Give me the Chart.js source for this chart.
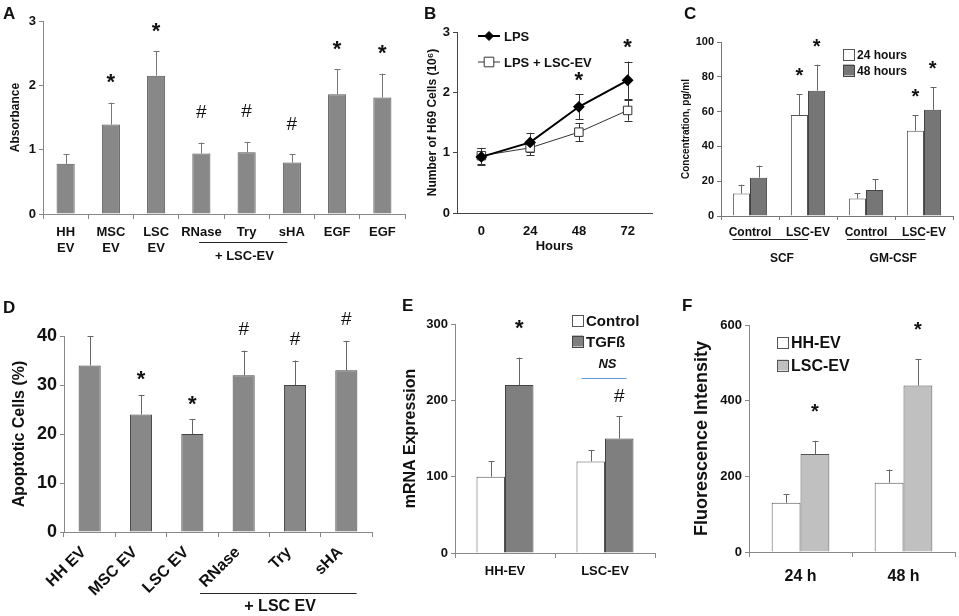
<!DOCTYPE html>
<html>
<head>
<meta charset="utf-8">
<script src="https://cdn.jsdelivr.net/npm/chart.js@4.4.1/dist/chart.umd.min.js"></script>
<style>
body { margin: 0; background: #fff; width: 959px; height: 616px; position: relative; overflow: hidden; font-family: 'Liberation Sans', Arial, sans-serif; }
canvas { position: absolute; }
.letter { position: absolute; font-weight: bold; font-size: 17px; color: #111; }
</style>
</head>
<body>
<canvas id="cA" width="415" height="270" style="left:0;top:0"></canvas>
<canvas id="cB" width="260" height="270" style="left:420px;top:0"></canvas>
<canvas id="cC" width="279" height="270" style="left:680px;top:0"></canvas>
<canvas id="cD" width="400" height="316" style="left:0;top:300px"></canvas>
<canvas id="cE" width="280" height="316" style="left:400px;top:300px"></canvas>
<canvas id="cF" width="279" height="316" style="left:680px;top:300px"></canvas>
<div class="letter" style="left:3px;top:4px">A</div>
<div class="letter" style="left:424px;top:4px">B</div>
<div class="letter" style="left:684px;top:4px">C</div>
<div class="letter" style="left:3px;top:298px">D</div>
<div class="letter" style="left:402px;top:296px">E</div>
<div class="letter" style="left:682px;top:296px">F</div>
<script>
// A - cell proliferation (absorbance)
var labelsA = [['HH', 'EV'], ['MSC', 'EV'], ['LSC', 'EV'], 'RNase', 'Try', 'sHA', 'EGF', 'EGF'];
var absorbA = [0.78, 1.39, 2.15, 0.94, 0.96, 0.80, 1.86, 1.81];
var sdA = [0.15, 0.34, 0.38, 0.17, 0.16, 0.13, 0.39, 0.37];
var sigA = ['', '*', '*', '#', '#', '#', '*', '*'];

// B - H69 cell number over time
var hoursB = ['0', '24', '48', '72'];
var lpsB = [0.93, 1.17, 1.76, 2.20];
var lpsSdB = [0.14, 0.16, 0.21, 0.31];
var evB = [0.95, 1.08, 1.34, 1.70];
var evSdB = [0.13, 0.12, 0.15, 0.17];
var sigB = ['', '', '*', '*'];

// C - SCF / GM-CSF concentration
var labelsC = ['Control', 'LSC-EV', 'Control', 'LSC-EV'];
var h24C = [13, 58, 10, 49];
var sd24C = [5, 12, 3, 9];
var h48C = [22, 72, 15, 61];
var sd48C = [7, 15, 6, 13];
var sigC = ['', '*', '', '*'];

// D - apoptosis
var labelsD = ['HH EV', 'MSC EV', 'LSC EV', 'RNase', 'Try', 'sHA'];
var apopD = [34, 24, 20, 32, 30, 33];
var sdD = [6, 4, 3, 5, 5, 6];
var sigD = ['', '*', '*', '#', '#', '#'];

// E - mRNA expression
var labelsE = ['HH-EV', 'LSC-EV'];
var ctrlE = [100, 120];
var sdCtrlE = [20, 15];
var tgfE = [220, 150];
var sdTgfE = [36, 29];
var sigTgfE = ['*', '#'];

// F - fluorescence
var labelsF = ['24 h', '48 h'];
var hhF = [130, 183];
var sdHhF = [23, 35];
var lscF = [259, 440];
var sdLscF = [35, 70];
var sigLscF = ['*', '*'];

var FONT = "'Liberation Sans', Arial, sans-serif";
Chart.defaults.font.family = FONT;
Chart.defaults.color = '#111';
Chart.defaults.animation = false;
Chart.defaults.plugins.legend.display = false;
Chart.defaults.plugins.tooltip.enabled = false;

function catX(chart, f) {
    var xs = chart.scales.x;
    var x0 = xs.getPixelForValue(0), x1 = xs.getPixelForValue(1);
    return x0 + f * (x1 - x0);
}

// draw text centred vertically on its ink
function drawMid(ctx, text, x, cy) {
    var m = ctx.measureText(text);
    ctx.fillText(text, x, cy + (m.actualBoundingBoxAscent - m.actualBoundingBoxDescent) / 2);
}

var extras = {
    id: 'extras',
    beforeDatasetsDraw: function (chart, args, o) {
        var ctx = chart.ctx, ys = chart.scales.y;
        ctx.save();
        ctx.strokeStyle = o.errColor || '#555';
        ctx.lineWidth = 1;
        chart.data.datasets.forEach(function (ds, di) {
            if (!ds.sd) return;
            chart.getDatasetMeta(di).data.forEach(function (el, i) {
                var v = ds.data[i], s = ds.sd[i];
                var top = ys.getPixelForValue(v + s);
                var bot = o.both ? ys.getPixelForValue(v - s) : el.y;
                var c = o.cap || 3;
                var x = Math.round(el.x) + 0.5;
                ctx.beginPath();
                ctx.moveTo(x, bot);
                ctx.lineTo(x, top);
                ctx.moveTo(x - c, Math.round(top) + 0.5);
                ctx.lineTo(x + c, Math.round(top) + 0.5);
                if (o.both) {
                    ctx.moveTo(x - c, Math.round(bot) + 0.5);
                    ctx.lineTo(x + c, Math.round(bot) + 0.5);
                }
                ctx.stroke();
            });
        });
        ctx.restore();
    },
    afterDatasetsDraw: function (chart, args, o) {
        var ctx = chart.ctx, ys = chart.scales.y;
        ctx.save();
        ctx.fillStyle = '#111';
        ctx.textAlign = 'center';
        // significance marks
        chart.data.datasets.forEach(function (ds, di) {
            if (!ds.sig) return;
            chart.getDatasetMeta(di).data.forEach(function (el, i) {
                var t = ds.sig[i];
                if (!t) return;
                var top = ys.getPixelForValue(ds.data[i] + (ds.sd ? ds.sd[i] : 0));
                ctx.font = t == '*' ? o.starFont : o.hashFont;
                drawMid(ctx, t, el.x, top - o.lift[t]);
            });
        });
        // group lines and texts
        (o.groups || []).forEach(function (g) {
            ctx.strokeStyle = g.color || '#222';
            ctx.lineWidth = 1;
            if (g.from !== undefined) {
                ctx.beginPath();
                ctx.moveTo(catX(chart, g.from), g.lineY + 0.5);
                ctx.lineTo(catX(chart, g.to), g.lineY + 0.5);
                ctx.stroke();
            }
            if (g.text) {
                ctx.font = g.font;
                drawMid(ctx, g.text, catX(chart, g.at), g.textY);
            }
        });
        // legend
        var L = o.legend;
        if (L) {
            chart.data.datasets.forEach(function (ds, di) {
                var y = L.y + di * L.gap;
                ctx.textAlign = 'left';
                if (L.line) {
                    ctx.strokeStyle = ds.borderColor;
                    ctx.lineWidth = ds.borderWidth;
                    ctx.beginPath();
                    ctx.moveTo(L.x, y);
                    ctx.lineTo(L.x + L.w, y);
                    ctx.stroke();
                    var cx = L.x + L.w / 2, r = ds.pointRadius;
                    ctx.fillStyle = ds.pointBackgroundColor;
                    ctx.strokeStyle = ds.pointBorderColor;
                    ctx.lineWidth = 1;
                    ctx.beginPath();
                    if (ds.pointStyle == 'rectRot') {
                        ctx.moveTo(cx, y - r); ctx.lineTo(cx + r, y); ctx.lineTo(cx, y + r); ctx.lineTo(cx - r, y);
                    } else {
                        ctx.rect(cx - r * 0.8, y - r * 0.8, r * 1.6, r * 1.6);
                    }
                    ctx.closePath();
                    ctx.fill();
                    ctx.stroke();
                    ctx.fillStyle = '#111';
                    ctx.font = L.font;
                    drawMid(ctx, ds.label, L.x + L.w + L.pad, y);
                } else {
                    ctx.fillStyle = ds.backgroundColor;
                    ctx.strokeStyle = ds.borderColor;
                    ctx.lineWidth = 1;
                    ctx.fillRect(L.x, y - L.box / 2, L.box, L.box);
                    ctx.strokeRect(L.x + 0.5, Math.round(y - L.box / 2) + 0.5, L.box, L.box);
                    ctx.fillStyle = '#111';
                    ctx.font = L.font;
                    drawMid(ctx, ds.label, L.x + L.box + L.pad, y);
                }
            });
        }
        ctx.restore();
    }
};

function yAxis(w, max, step, size, title, tSize, tPad, axisColor) {
    return {
        min: 0, max: max,
        afterFit: function (s) { s.width = w; },
        ticks: { stepSize: step, padding: 3, font: { size: size, weight: 'bold' }, color: '#111' },
        grid: { drawOnChartArea: false, drawTicks: true, tickLength: 4, color: axisColor },
        border: { color: axisColor },
        title: { display: true, text: title, font: { size: tSize, weight: 'bold' }, color: '#111', padding: { top: tPad, bottom: 0 } }
    };
}

function xAxis(h, size, tick, pad, axisColor) {
    return {
        afterFit: function (s) { s.height = h; },
        ticks: { autoSkip: false, maxRotation: 0, minRotation: 0, padding: pad, font: { size: size, weight: 'bold' }, color: '#111' },
        grid: { offset: true, drawOnChartArea: false, drawTicks: tick > 0, tickLength: tick, color: axisColor },
        border: { color: axisColor }
    };
}

// ---------- A ----------
new Chart(document.getElementById('cA'), {
    type: 'bar',
    data: {
        labels: labelsA,
        datasets: [{
            label: 'Absorbance', data: absorbA, sd: sdA, sig: sigA,
            backgroundColor: '#888888', borderColor: '#555', borderWidth: 1,
            barPercentage: 0.4, categoryPercentage: 1
        }]
    },
    options: {
        responsive: false,
        layout: { padding: { left: 0, right: 10, top: 21, bottom: 0 } },
        scales: {
            x: xAxis(56, 13, 5, 6, '#888'),
            y: yAxis(43, 3, 1, 13, 'Absorbance', 12, 8, '#888')
        },
        plugins: {
            extras: {
                cap: 3, errColor: '#777',
                starFont: 'bold 22px ' + FONT, hashFont: '19px ' + FONT,
                lift: { '*': 24, '#': 31 },
                groups: [{ from: 2.95, to: 4.9, lineY: 242, text: '+ LSC-EV', at: 3.95, textY: 255, font: 'bold 13px ' + FONT }]
            }
        }
    },
    plugins: [extras]
});

// ---------- B ----------
new Chart(document.getElementById('cB'), {
    type: 'line',
    data: {
        labels: hoursB,
        datasets: [{
            label: 'LPS', data: lpsB, sd: lpsSdB, sig: sigB,
            borderColor: '#000', borderWidth: 2, pointStyle: 'rectRot', pointRadius: 4.5,
            pointBackgroundColor: '#000', pointBorderColor: '#000', tension: 0
        }, {
            label: 'LPS + LSC-EV', data: evB, sd: evSdB,
            borderColor: '#333', borderWidth: 1, pointStyle: 'rect', pointRadius: 6,
            pointBackgroundColor: '#fff', pointBorderColor: '#333', pointBorderWidth: 1, tension: 0
        }]
    },
    options: {
        responsive: false,
        layout: { padding: { left: 0, right: 28, top: 32, bottom: 0 } },
        scales: {
            x: Object.assign(xAxis(57, 13, 0, 11, '#444'), {
                offset: true,
                title: { display: true, text: 'Hours', font: { size: 13, weight: 'bold' }, color: '#111', padding: { top: 0, bottom: 16 } }
            }),
            y: yAxis(37, 3, 1, 13, 'Number of H69 Cells (10\u2076)', 12, 5, '#444')
        },
        plugins: {
            extras: {
                both: true, cap: 4, errColor: '#333',
                starFont: 'bold 22px ' + FONT, hashFont: '17px ' + FONT,
                lift: { '*': 18, '#': 22 },
                legend: { line: true, x: 58, y: 36, gap: 26, w: 22, pad: 4, font: 'bold 13px ' + FONT }
            }
        }
    },
    plugins: [extras]
});

// ---------- C ----------
new Chart(document.getElementById('cC'), {
    type: 'bar',
    data: {
        labels: labelsC,
        datasets: [{
            label: '24 hours', data: h24C, sd: sd24C, sig: sigC,
            backgroundColor: '#ffffff', borderColor: '#555', borderWidth: 1,
            barPercentage: 1, categoryPercentage: 0.59
        }, {
            label: '48 hours', data: h48C, sd: sd48C, sig: sigC,
            backgroundColor: '#767676', borderColor: '#444', borderWidth: 1,
            barPercentage: 1, categoryPercentage: 0.59
        }]
    },
    options: {
        responsive: false,
        layout: { padding: { left: 0, right: 6, top: 42, bottom: 0 } },
        scales: {
            x: xAxis(54, 12, 4, 5, '#777'),
            y: yAxis(41, 100, 20, 11, 'Concentration, pg/ml', 10, 0, '#777')
        },
        plugins: {
            extras: {
                cap: 3, errColor: '#666',
                starFont: 'bold 20px ' + FONT, hashFont: '17px ' + FONT,
                lift: { '*': 22, '#': 22 },
                groups: [
                    { from: -0.3, to: 1.0, lineY: 239, text: 'SCF', at: 0.55, textY: 257, font: 'bold 12px ' + FONT },
                    { from: 1.67, to: 3.02, lineY: 239, text: 'GM-CSF', at: 2.47, textY: 257, font: 'bold 12px ' + FONT }
                ],
                legend: { x: 163, y: 54, gap: 16, box: 11, pad: 3, font: 'bold 12px ' + FONT }
            }
        }
    },
    plugins: [extras]
});

// ---------- D ----------
new Chart(document.getElementById('cD'), {
    type: 'bar',
    data: {
        labels: labelsD,
        datasets: [{
            label: 'Apoptotic Cells', data: apopD, sd: sdD, sig: sigD,
            backgroundColor: '#888888', borderColor: '#444', borderWidth: 1,
            barPercentage: 0.43, categoryPercentage: 1
        }]
    },
    options: {
        responsive: false,
        layout: { padding: { left: 0, right: 28, top: 36, bottom: 0 } },
        scales: {
            x: Object.assign(xAxis(84, 16, 5, 4, '#888'), {
                ticks: { autoSkip: false, maxRotation: 45, minRotation: 45, padding: 6, labelOffset: -6, font: { size: 16, weight: 'bold' }, color: '#111' }
            }),
            y: yAxis(64, 40, 10, 18, 'Apoptotic Cells (%)', 16, 10, '#888')
        },
        plugins: {
            extras: {
                cap: 3, errColor: '#666',
                starFont: 'bold 22px ' + FONT, hashFont: '19px ' + FONT,
                lift: { '*': 19, '#': 22 },
                groups: [{ from: 2.15, to: 5.2, lineY: 293, text: '+ LSC EV', at: 3.71, textY: 305, font: 'bold 16px ' + FONT }]
            }
        }
    },
    plugins: [extras]
});

// ---------- E ----------
new Chart(document.getElementById('cE'), {
    type: 'bar',
    data: {
        labels: labelsE,
        datasets: [{
            label: 'Control', data: ctrlE, sd: sdCtrlE,
            backgroundColor: '#ffffff', borderColor: '#555', borderWidth: 1,
            barPercentage: 1, categoryPercentage: 0.57
        }, {
            label: 'TGF\u00df', data: tgfE, sd: sdTgfE, sig: sigTgfE,
            backgroundColor: '#7f7f7f', borderColor: '#444', borderWidth: 1,
            barPercentage: 1, categoryPercentage: 0.57
        }]
    },
    options: {
        responsive: false,
        layout: { padding: { left: 0, right: 25, top: 24, bottom: 0 } },
        scales: {
            x: xAxis(63, 13, 5, 6, '#888'),
            y: yAxis(55, 300, 100, 13, 'mRNA Expression', 16, 1, '#888')
        },
        plugins: {
            extras: {
                cap: 3, errColor: '#666',
                starFont: 'bold 22px ' + FONT, hashFont: '19px ' + FONT,
                lift: { '*': 33, '#': 21 },
                groups: [
                    { from: 0.765, to: 1.215, lineY: 78, color: '#5b9bd5' },
                    { text: 'NS', at: 1.025, textY: 63, font: 'italic bold 13px ' + FONT }
                ],
                legend: { x: 172, y: 20, gap: 21, box: 11, pad: 3, font: 'bold 15px ' + FONT }
            }
        }
    },
    plugins: [extras]
});

// ---------- F ----------
new Chart(document.getElementById('cF'), {
    type: 'bar',
    data: {
        labels: labelsF,
        datasets: [{
            label: 'HH-EV', data: hhF, sd: sdHhF,
            backgroundColor: '#ffffff', borderColor: '#555', borderWidth: 1,
            barPercentage: 1, categoryPercentage: 0.56
        }, {
            label: 'LSC-EV', data: lscF, sd: sdLscF, sig: sigLscF,
            backgroundColor: '#c0c0c0', borderColor: '#555', borderWidth: 1,
            barPercentage: 1, categoryPercentage: 0.56
        }]
    },
    options: {
        responsive: false,
        layout: { padding: { left: 0, right: 4, top: 25, bottom: 0 } },
        scales: {
            x: xAxis(64, 16, 5, 10, '#888'),
            y: yAxis(69, 600, 200, 13, 'Fluorescence Intensity', 18, 11, '#888')
        },
        plugins: {
            extras: {
                cap: 3, errColor: '#666',
                starFont: 'bold 20px ' + FONT, hashFont: '18px ' + FONT,
                lift: { '*': 33, '#': 30 },
                legend: { x: 97, y: 42, gap: 23, box: 11, pad: 3, font: 'bold 16px ' + FONT }
            }
        }
    },
    plugins: [extras]
});
</script>
</body>
</html>
